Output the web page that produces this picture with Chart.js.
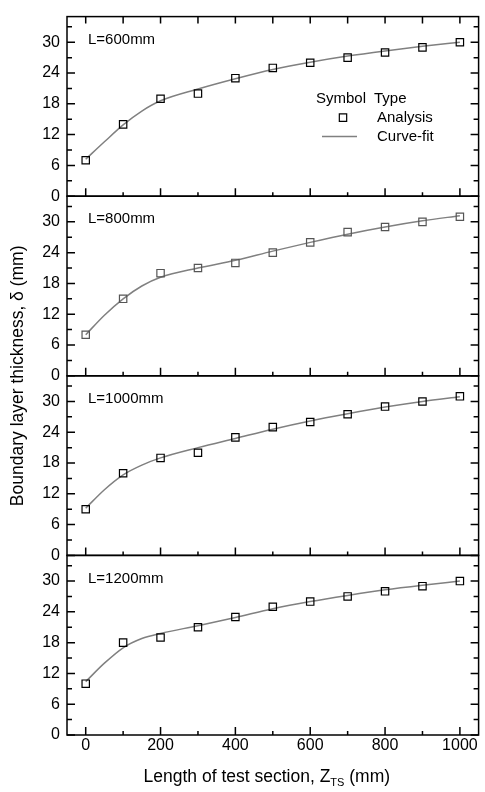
<!DOCTYPE html>
<html>
<head>
<meta charset="utf-8">
<script src="https://cdn.jsdelivr.net/npm/chart.js@4.4.1/dist/chart.umd.min.js"></script>
<style>
  html, body { margin: 0; padding: 0; background: #fff; }
  canvas { display: block; }
</style>
</head>
<body>
<canvas id="chart" width="485" height="792"></canvas>
<script>
// data
const xPoints = [0, 100, 200, 300, 400, 500, 600, 700, 800, 900, 1000];
const analysis600 = [7, 14, 19, 20, 23, 25, 26, 27, 28, 29, 30];
const analysis800 = [8, 15, 20, 21, 22, 24, 26, 28, 29, 30, 31];
const analysis1000 = [9, 16, 19, 20, 23, 25, 26, 27.5, 29, 30, 31];
const analysis1200 = [10, 18, 19, 21, 23, 25, 26, 27, 28, 29, 30];

const xFit = [0, 50, 100, 150, 200, 300, 400, 500, 600, 700, 800, 900, 1000];
const fit600 = [7.2, 10.6, 13.9, 16.6, 18.6, 20.9, 22.9, 24.7, 26.1, 27.3, 28.3, 29.2, 30.0];
const fit800 = [8.0, 11.8, 15.0, 17.5, 19.2, 21.0, 22.5, 24.3, 26.0, 27.6, 29.0, 30.2, 31.2];
const fit1000 = [9.2, 12.8, 15.7, 17.6, 19.0, 21.0, 22.8, 24.6, 26.2, 27.6, 28.9, 30.0, 30.9];
const fit1200 = [10.4, 14.0, 17.0, 18.8, 19.8, 21.3, 22.9, 24.6, 26.0, 27.2, 28.3, 29.2, 30.0];

const panelLabels = ['L=600mm', 'L=800mm', 'L=1000mm', 'L=1200mm'];
const xTicks = [0, 100, 200, 300, 400, 500, 600, 700, 800, 900, 1000];
const xTickLabels = [0, 200, 400, 600, 800, 1000];
const yTickLabels = [0, 6, 12, 18, 24, 30];

const FONT = "'Liberation Sans', Arial, sans-serif";

// top to bottom
const panels = [
    { id: 'y600', label: panelLabels[0], pts: analysis600, fit: fit600, sq: '#000' },
    { id: 'y800', label: panelLabels[1], pts: analysis800, fit: fit800, sq: '#555' },
    { id: 'y1000', label: panelLabels[2], pts: analysis1000, fit: fit1000, sq: '#000' },
    { id: 'y1200', label: panelLabels[3], pts: analysis1200, fit: fit1200, sq: '#000' }
];

const datasets = [];
panels.forEach(p => {
    datasets.push({
        label: 'Analysis',
        data: xPoints.map((x, k) => ({ x: x, y: p.pts[k] })),
        yAxisID: p.id,
        showLine: false,
        pointStyle: 'rect',
        pointRadius: 5.2,
        pointBorderWidth: 1.2,
        borderColor: p.sq,
        backgroundColor: 'rgba(0,0,0,0)'
    });
});
panels.forEach(p => {
    datasets.push({
        label: 'Curve-fit',
        data: xFit.map((x, k) => ({ x: x, y: p.fit[k] })),
        yAxisID: p.id,
        showLine: true,
        pointRadius: 0,
        borderColor: '#808080',
        borderWidth: 1.5,
        cubicInterpolationMode: 'monotone'
    });
});

const scales = {};
// stacked left axes are laid out bottom first, so add them in reverse
panels.slice().reverse().forEach(p => {
    scales[p.id] = {
        type: 'linear',
        position: 'left',
        stack: 'panels',
        stackWeight: 1,
        min: 0,
        max: 35,
        grid: { display: false, drawTicks: false },
        border: { display: false },
        ticks: {
            stepSize: 3,
            includeBounds: false,
            autoSkip: false,
            padding: 7,
            color: '#000',
            font: { family: FONT, size: 16 },
            callback: v => yTickLabels.includes(v) ? String(v) : ''
        },
        afterFit: s => { s.width = 67; }
    };
});
scales.x = {
    type: 'linear',
    position: 'bottom',
    min: -50,
    max: 1050,
    grid: { display: false, drawTicks: false },
    border: { display: false },
    afterBuildTicks: s => { s.ticks = xTicks.map(v => ({ value: v })); },
    ticks: {
        autoSkip: false,
        maxRotation: 0,
        padding: 1,
        color: '#000',
        font: { family: FONT, size: 16 },
        callback: v => xTickLabels.includes(v) ? String(v) : ''
    },
    afterFit: s => { s.height = 57; }
};

// frames, inward ticks, panel labels, legend and axis titles
const framePlugin = {
    id: 'frames',
    afterDraw(chart) {
        const { ctx, chartArea: a } = chart;
        const xs = chart.scales.x;
        ctx.save();
        ctx.strokeStyle = '#000';
        ctx.fillStyle = '#000';
        ctx.lineWidth = 1.5;
        panels.forEach((p, i) => {
            const ys = chart.scales[p.id];
            ctx.strokeRect(a.left, ys.top, a.right - a.left, ys.bottom - ys.top);
            ctx.beginPath();
            ys.ticks.forEach(t => {
                const py = ys.getPixelForValue(t.value);
                const len = t.value % 6 === 0 ? 8 : 5;
                ctx.moveTo(a.left, py); ctx.lineTo(a.left + len, py);
                ctx.moveTo(a.right, py); ctx.lineTo(a.right - len, py);
            });
            xs.ticks.forEach(t => {
                const px = xs.getPixelForValue(t.value);
                const len = t.value % 200 === 0 ? 8 : 4;
                ctx.moveTo(px, ys.bottom); ctx.lineTo(px, ys.bottom - len);
                if (i === 0) { ctx.moveTo(px, ys.top); ctx.lineTo(px, ys.top + 7); }
            });
            ctx.stroke();

            ctx.font = '15px ' + FONT;
            ctx.textAlign = 'left';
            ctx.textBaseline = 'middle';
            ctx.fillText(p.label, a.left + 21, ys.top + 23);
        });

        // legend in the top panel
        const y0 = chart.scales[panels[0].id].top;
        const lx = a.left;
        ctx.font = '15px ' + FONT;
        ctx.fillText('Symbol', lx + 249, y0 + 82);
        ctx.fillText('Type', lx + 307, y0 + 82);
        ctx.fillText('Analysis', lx + 310, y0 + 101);
        ctx.fillText('Curve-fit', lx + 310, y0 + 120);
        ctx.lineWidth = 1.2;
        ctx.fillStyle = 'rgba(0,0,0,0)';
        Chart.helpers.drawPoint(ctx, { pointStyle: 'rect', radius: 5.2, borderWidth: 1.2 }, lx + 276, y0 + 101);
        ctx.strokeStyle = '#808080';
        ctx.lineWidth = 1.5;
        ctx.beginPath();
        ctx.moveTo(lx + 255, y0 + 120); ctx.lineTo(lx + 290, y0 + 120);
        ctx.stroke();

        // x title with subscript
        const main = 'Length of test section, Z';
        const sub = 'TS';
        const tail = ' (mm)';
        const big = '17.5px ' + FONT, small = '11px ' + FONT;
        ctx.font = big; const w1 = ctx.measureText(main).width; const w3 = ctx.measureText(tail).width;
        ctx.font = small; const w2 = ctx.measureText(sub).width;
        let tx = (a.left + a.right) / 2 - 6 - (w1 + w2 + w3) / 2;
        const ty = 777;
        ctx.fillStyle = '#000';
        ctx.textAlign = 'left';
        ctx.textBaseline = 'middle';
        ctx.font = big; ctx.fillText(main, tx, ty); tx += w1;
        ctx.font = small; ctx.fillText(sub, tx, ty + 6); tx += w2;
        ctx.font = big; ctx.fillText(tail, tx, ty);

        // y title
        ctx.translate(18, (a.top + a.bottom) / 2);
        ctx.rotate(-Math.PI / 2);
        ctx.textAlign = 'center';
        ctx.font = '17.5px ' + FONT;
        ctx.fillText('Boundary layer thickness, \u03B4 (mm)', 0, 0);
        ctx.restore();
    }
};

new Chart(document.getElementById('chart').getContext('2d'), {
    type: 'scatter',
    data: { datasets: datasets },
    options: {
        responsive: false,
        animation: false,
        layout: { padding: { top: 7, right: 3, left: 0, bottom: 0 } },
        plugins: {
            legend: { display: false },
            tooltip: { enabled: false }
        },
        scales: scales
    },
    plugins: [framePlugin]
});
</script>
</body>
</html>
